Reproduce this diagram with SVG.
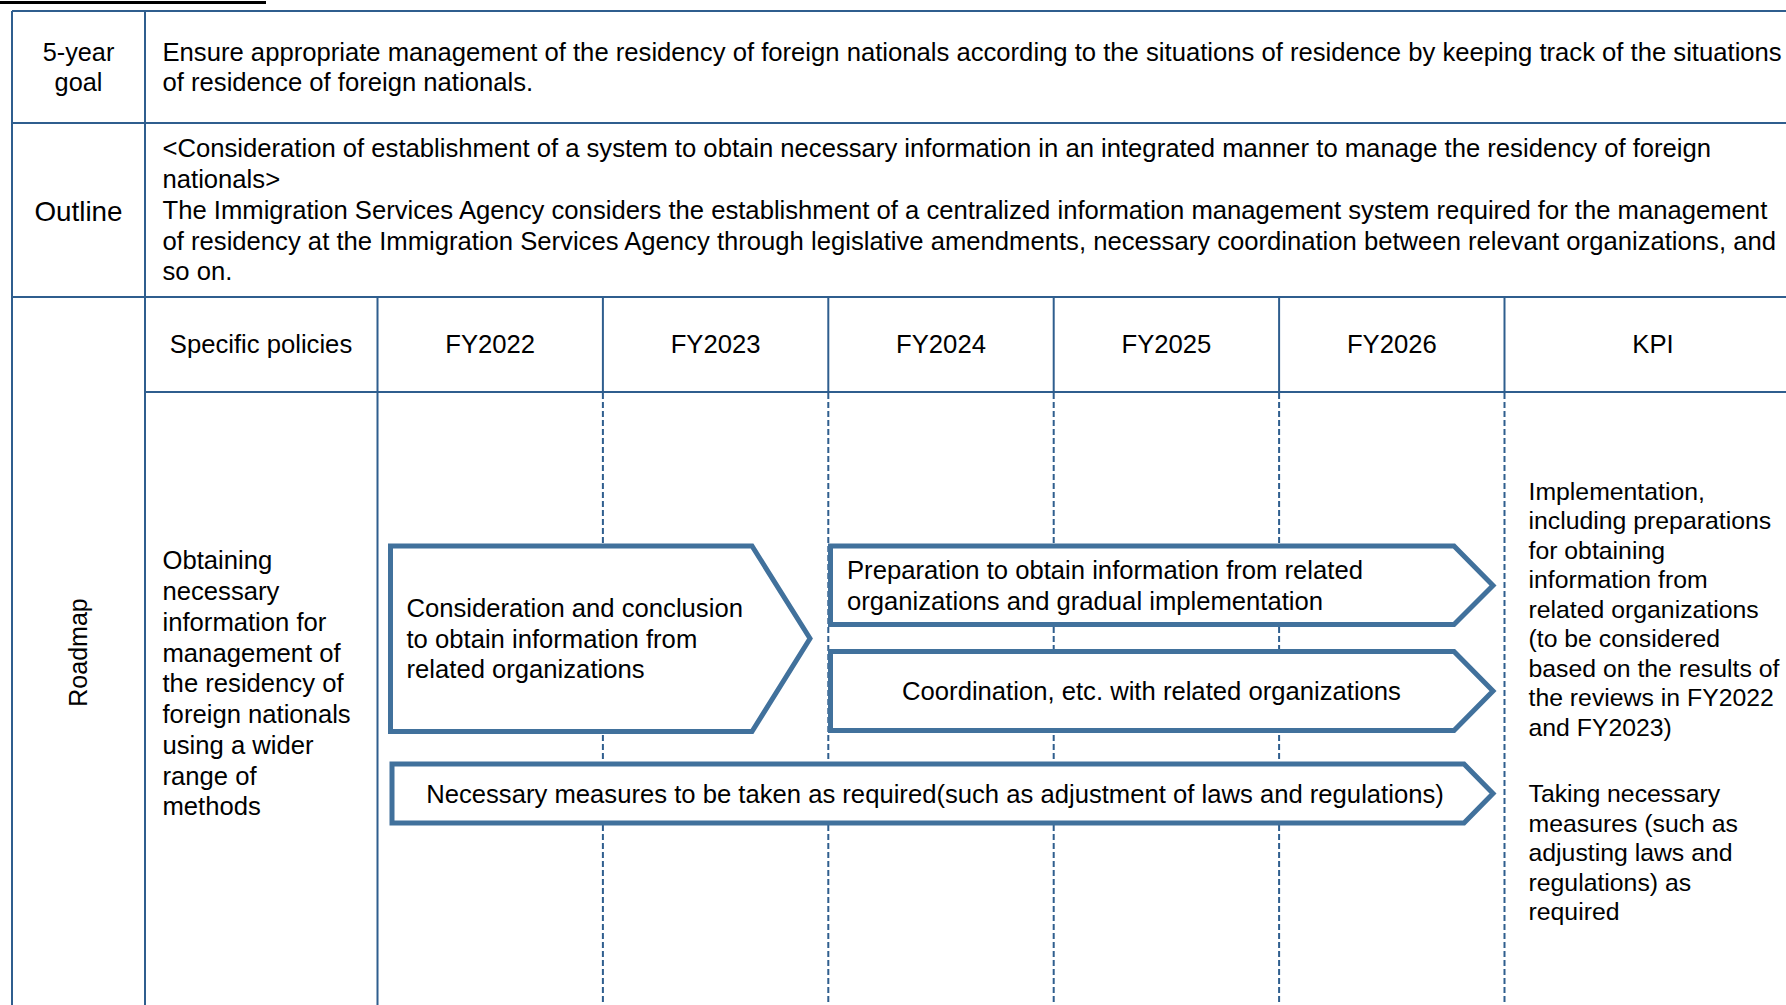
<svg xmlns="http://www.w3.org/2000/svg" width="1786" height="1005" viewBox="0 0 1786 1005">
<style>
  text { font-family: "Liberation Sans", Arial, sans-serif; font-size: 25.65px; fill: #000; }
  .c { text-anchor: middle; }
  .kpi { font-size: 24.8px; }
  .grid { stroke: #2F5E8E; stroke-width: 2; fill: none; }
  .dash { stroke: #2F5E8E; stroke-width: 2; stroke-dasharray: 6 3; fill: none; }
  .box { fill: #fff; stroke: #41719C; stroke-width: 5; stroke-linejoin: miter; }
</style>
<rect x="0" y="0" width="1786" height="1005" fill="#fff"/>
<line x1="0" y1="2.5" x2="266" y2="2.5" stroke="#000" stroke-width="3"/>

<g id="connectors">
  <line class="grid" x1="12" y1="11" x2="1786" y2="11"/>
  <line class="grid" x1="12" y1="123" x2="1786" y2="123"/>
  <line class="grid" x1="12" y1="297" x2="1786" y2="297"/>
  <line class="grid" x1="145" y1="392" x2="1786" y2="392"/>
  <line class="grid" x1="12" y1="11" x2="12" y2="1005"/>
  <line class="grid" x1="145" y1="11" x2="145" y2="1005"/>
  <line class="grid" x1="377.5" y1="297" x2="377.5" y2="1005"/>
  <line class="grid" x1="602.9" y1="297" x2="602.9" y2="392"/>
  <line class="grid" x1="828.3" y1="297" x2="828.3" y2="392"/>
  <line class="grid" x1="1053.7" y1="297" x2="1053.7" y2="392"/>
  <line class="grid" x1="1279.1" y1="297" x2="1279.1" y2="392"/>
  <line class="grid" x1="1504.5" y1="297" x2="1504.5" y2="392"/>
  <line class="dash" x1="602.9" y1="393" x2="602.9" y2="1005"/>
  <line class="dash" x1="828.3" y1="393" x2="828.3" y2="1005"/>
  <line class="dash" x1="1053.7" y1="393" x2="1053.7" y2="1005"/>
  <line class="dash" x1="1279.1" y1="393" x2="1279.1" y2="1005"/>
  <line class="dash" x1="1504.5" y1="393" x2="1504.5" y2="1005"/>
</g>

<g id="goal-label">
  <text class="c" x="78.5" y="61" style="font-size:25.3px">5-year</text>
  <text class="c" x="78.5" y="91" style="font-size:25.3px">goal</text>
</g>
<g id="goal-text">
  <text x="162.5" y="61">Ensure appropriate management of the residency of foreign nationals according to the situations of residence by keeping track of the situations</text>
  <text x="162.5" y="91">of residence of foreign nationals.</text>
</g>
<g id="outline-label">
  <text class="c" x="78.5" y="221" style="font-size:27.8px">Outline</text>
</g>
<g id="outline-text">
  <text x="162.5" y="157">&lt;Consideration of establishment of a system to obtain necessary information in an integrated manner to manage the residency of foreign</text>
  <text x="162.5" y="188">nationals&gt;</text>
  <text x="162.5" y="218.5">The Immigration Services Agency considers the establishment of a centralized information management system required for the management</text>
  <text x="162.5" y="249.5">of residency at the Immigration Services Agency through legislative amendments, necessary coordination between relevant organizations, and</text>
  <text x="162.5" y="280">so on.</text>
</g>
<g id="roadmap-label">
  <text class="c" transform="translate(87,652.5) rotate(-90)" x="0" y="0" style="font-size:25px">Roadmap</text>
</g>
<g id="header">
  <text class="c" x="261" y="353">Specific policies</text>
  <text class="c" x="490.2" y="353">FY2022</text>
  <text class="c" x="715.6" y="353">FY2023</text>
  <text class="c" x="941" y="353">FY2024</text>
  <text class="c" x="1166.4" y="353">FY2025</text>
  <text class="c" x="1391.8" y="353">FY2026</text>
  <text class="c" x="1653" y="353">KPI</text>
</g>
<g id="policy">
  <text x="162.5" y="569">Obtaining</text>
  <text x="162.5" y="600">necessary</text>
  <text x="162.5" y="630.5">information for</text>
  <text x="162.5" y="661.5">management of</text>
  <text x="162.5" y="692">the residency of</text>
  <text x="162.5" y="723">foreign nationals</text>
  <text x="162.5" y="753.5">using a wider</text>
  <text x="162.5" y="784.5">range of</text>
  <text x="162.5" y="815">methods</text>
</g>
<g id="step-consideration">
  <path class="box" d="M390.5,546 L752,546 L810,638.5 L752,731.5 L390.5,731.5 Z"/>
  <text x="406.5" y="616.5">Consideration and conclusion</text>
  <text x="406.5" y="647.5">to obtain information from</text>
  <text x="406.5" y="678">related organizations</text>
</g>
<g id="step-preparation">
  <path class="box" d="M830.5,546 L1454,546 L1493,585.5 L1454,624.5 L830.5,624.5 Z"/>
  <text x="847" y="579">Preparation to obtain information from related</text>
  <text x="847" y="610">organizations and gradual implementation</text>
</g>
<g id="step-coordination">
  <path class="box" d="M830.5,651.5 L1454,651.5 L1493,691 L1454,730.5 L830.5,730.5 Z"/>
  <text class="c" x="1151.5" y="700">Coordination, etc. with related organizations</text>
</g>
<g id="step-measures">
  <path class="box" d="M392,764 L1464,764 L1493,793.5 L1464,823 L392,823 Z"/>
  <text class="c" x="935" y="802.5">Necessary measures to be taken as required(such as adjustment of laws and regulations)</text>
</g>
<g id="kpi-1" class="kpi">
  <text class="kpi" x="1528.5" y="499.5">Implementation,</text>
  <text class="kpi" x="1528.5" y="529">including preparations</text>
  <text class="kpi" x="1528.5" y="558.5">for obtaining</text>
  <text class="kpi" x="1528.5" y="588">information from</text>
  <text class="kpi" x="1528.5" y="617.5">related organizations</text>
  <text class="kpi" x="1528.5" y="647">(to be considered</text>
  <text class="kpi" x="1528.5" y="676.5">based on the results of</text>
  <text class="kpi" x="1528.5" y="706">the reviews in FY2022</text>
  <text class="kpi" x="1528.5" y="735.5">and FY2023)</text>
</g>
<g id="kpi-2">
  <text class="kpi" x="1528.5" y="802">Taking necessary</text>
  <text class="kpi" x="1528.5" y="831.5">measures (such as</text>
  <text class="kpi" x="1528.5" y="861">adjusting laws and</text>
  <text class="kpi" x="1528.5" y="890.5">regulations) as</text>
  <text class="kpi" x="1528.5" y="920">required</text>
</g>
</svg>
